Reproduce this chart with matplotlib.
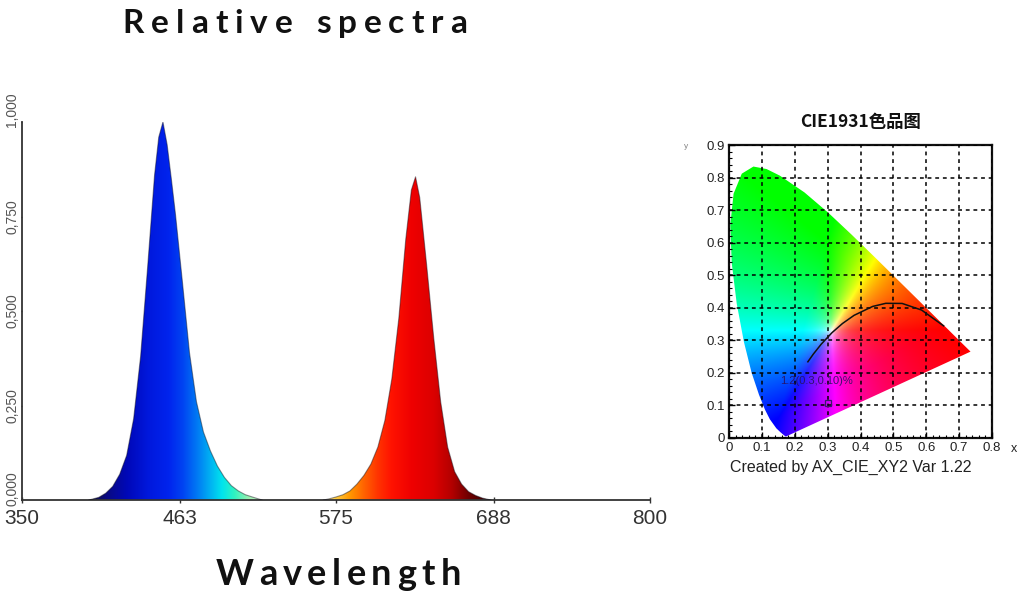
import numpy as np
import matplotlib
matplotlib.use('Agg')
import matplotlib.pyplot as plt
from matplotlib.colors import LinearSegmentedColormap
from matplotlib.patches import Polygon
from matplotlib.ticker import MultipleLocator
from matplotlib.transforms import ScaledTranslation

# ---- spectrum data ----
blue_nm = [398, 405, 410, 415, 420, 425, 430, 435, 440, 445, 448, 451, 454,
           457, 460, 465, 470, 475, 480, 485, 490, 495, 500, 505, 510, 515, 522]
blue_val = [0.0, 0.007, 0.018, 0.036, 0.068, 0.118, 0.215, 0.38, 0.615, 0.86,
            0.96, 1.0, 0.94, 0.85, 0.755, 0.575, 0.39, 0.26, 0.18, 0.13, 0.09,
            0.06, 0.038, 0.024, 0.014, 0.008, 0.0]
red_nm = [566, 570, 575, 580, 585, 590, 595, 600, 605, 610, 615, 620, 625,
          629, 632, 635, 640, 645, 650, 655, 660, 665, 670, 675, 680, 686]
red_val = [0.0, 0.003, 0.008, 0.014, 0.024, 0.042, 0.065, 0.095, 0.14, 0.21,
           0.32, 0.48, 0.69, 0.82, 0.855, 0.8, 0.62, 0.43, 0.26, 0.14, 0.075,
           0.042, 0.022, 0.012, 0.005, 0.0]
x_ticks = [350, 463, 575, 688, 800]
y_ticks = [0.0, 0.25, 0.5, 0.75, 1.0]
y_tick_labels = ['0,000', '0,250', '0,500', '0,750', '1,000']

# ---- CIE 1931 data ----
locus_x = [0.1741, 0.1733, 0.1714, 0.1644, 0.1566, 0.1440, 0.1241, 0.1096,
           0.0913, 0.0687, 0.0454, 0.0235, 0.0082, 0.0039, 0.0139, 0.0389,
           0.0743, 0.1142, 0.1547, 0.2296, 0.3016, 0.3731, 0.4441, 0.5125,
           0.5752, 0.6270, 0.6658, 0.6915, 0.7190, 0.7347]
locus_y = [0.0050, 0.0048, 0.0051, 0.0109, 0.0177, 0.0297, 0.0578, 0.0868,
           0.1327, 0.2007, 0.2950, 0.4127, 0.5384, 0.6548, 0.7502, 0.8120,
           0.8338, 0.8262, 0.8059, 0.7543, 0.6923, 0.6245, 0.5547, 0.4866,
           0.4242, 0.3725, 0.3340, 0.3083, 0.2809, 0.2653]
planck_x = [0.6528, 0.5857, 0.5267, 0.4770, 0.4369, 0.3805, 0.3451, 0.3135,
            0.2807, 0.2565, 0.2399]
planck_y = [0.3444, 0.3931, 0.4133, 0.4137, 0.4041, 0.3768, 0.3516, 0.3237,
            0.2884, 0.2577, 0.2341]
point_x, point_y = 0.30, 0.107
cie_xticks = [0, 0.1, 0.2, 0.3, 0.4, 0.5, 0.6, 0.7, 0.8]
cie_yticks = [0, 0.1, 0.2, 0.3, 0.4, 0.5, 0.6, 0.7, 0.8, 0.9]

W, H = 1024, 596
fig = plt.figure(figsize=(W / 100, H / 100), dpi=100)


def fx(px):
    return px / W


def fy(py):
    return 1 - py / H


def spaced_text(cx, baseline, s, size, gap, **kw):
    # draw text with extra letter spacing, centred on cx (pixels)
    renderer = fig.canvas.get_renderer()
    widths = []
    for ch in s:
        if ch == ' ':
            widths.append(size * 0.28 * 100 / 72)
            continue
        t = fig.text(0, 0, ch, fontsize=size, **kw)
        widths.append(t.get_window_extent(renderer).width)
        t.remove()
    total = sum(widths) + gap * (len(s) - 1)
    x = cx - total / 2
    for ch, w in zip(s, widths):
        if ch != ' ':
            fig.text(fx(x), fy(baseline), ch, fontsize=size, va='baseline', ha='left', **kw)
        x += w + gap


# ---- left: relative spectra ----
ax = fig.add_axes([fx(22), fy(500), fx(650) - fx(22), fy(122) - fy(500)])
ax.set_xlim(350, 800)
ax.set_ylim(0, 1.0)

blue_stops = [(398, '#141438'), (410, '#0a0a80'), (425, '#0008b8'), (440, '#0018dc'),
              (455, '#0024ee'), (465, '#0044f2'), (475, '#0078f4'), (485, '#00b4f2'),
              (493, '#00e4ee'), (502, '#30f2c0'), (512, '#9af0b0'), (522, '#d0f4d0')]
red_stops = [(566, '#fbeec0'), (575, '#ffcc40'), (585, '#ff9800'), (595, '#ff6400'),
             (605, '#ff3400'), (615, '#ff1200'), (630, '#ee0000'), (645, '#dc0000'),
             (658, '#b40000'), (670, '#700000'), (686, '#300000')]


def gradient_fill(nm, val, stops):
    lo, hi = stops[0][0], stops[-1][0]
    cmap = LinearSegmentedColormap.from_list(
        'g', [((w - lo) / (hi - lo), c) for w, c in stops])
    grad = np.linspace(0, 1, 256)[None, :]
    im = ax.imshow(grad, cmap=cmap, extent=[lo, hi, 0, 1.0], aspect='auto',
                   origin='lower', zorder=2)
    poly = Polygon(list(zip(nm, val)), closed=True, transform=ax.transData,
                   facecolor='none', edgecolor='none')
    ax.add_patch(poly)
    im.set_clip_path(poly)
    ax.plot(nm, val, color=(0.05, 0.05, 0.1, 0.45), lw=0.8, zorder=3)


gradient_fill(blue_nm, blue_val, blue_stops)
gradient_fill(red_nm, red_val, red_stops)

for s in ['top', 'right']:
    ax.spines[s].set_visible(False)
for s in ['left', 'bottom']:
    ax.spines[s].set_color('#333333')
    ax.spines[s].set_linewidth(1.3)
ax.set_xticks(x_ticks)
ax.set_xticklabels([str(v) for v in x_ticks], fontsize=15, color='#333333',
                   family='Liberation Sans')
ax.set_yticks(y_ticks)
ax.set_yticklabels(y_tick_labels, fontsize=10, color='#555555', rotation=90,
                   va='center', family='Liberation Sans')
ax.tick_params(axis='x', direction='inout', length=5, width=1, pad=4, color='#333333')
ax.tick_params(axis='y', direction='out', length=1, width=1, pad=1, color='#333333')
# the end labels sit a little higher in the original
ylabs = ax.get_yticklabels()
for lab, dy in [(ylabs[0], 0.11), (ylabs[-1], 0.12)]:
    lab.set_transform(lab.get_transform() + ScaledTranslation(0, dy, fig.dpi_scale_trans))
ax.set_facecolor('white')

spaced_text(295, 33, 'Relative spectra', 24, 7, family='Lato', weight='bold', color='#111111')
spaced_text(338, 585, 'Wavelength', 26, 5.5, family='Lato', weight='bold', color='#111111')

# ---- right: CIE 1931 chromaticity diagram ----
cx = fig.add_axes([fx(729), fy(438), fx(992) - fx(729), fy(145) - fy(438)])
cx.set_xlim(0, 0.8)
cx.set_ylim(0, 0.9)

gx = np.linspace(0.0, 0.8, 400)
gy = np.linspace(0.002, 0.9, 450)
XX, YY = np.meshgrid(gx, gy)
Xc = XX / YY
Zc = (1 - XX - YY) / YY
M = np.array([[3.2406, -1.5372, -0.4986],
              [-0.9689, 1.8758, 0.0415],
              [0.0557, -0.2040, 1.0570]])
rgb = np.einsum('ij,jkl->kli', M, np.stack([Xc, np.ones_like(Xc), Zc]))
rgb = np.clip(rgb, 0, None)
rgb = rgb - 0.7 * rgb.min(axis=2, keepdims=True)
rgb = rgb / rgb.max(axis=2, keepdims=True)
rgb = rgb ** (1 / 1.1)
im = cx.imshow(rgb, extent=[0, 0.8, 0.002, 0.9], origin='lower', aspect='auto', zorder=1)
horse = Polygon(list(zip(locus_x, locus_y)), closed=True, transform=cx.transData,
                facecolor='none', edgecolor='none')
cx.add_patch(horse)
im.set_clip_path(horse)

cx.plot(planck_x, planck_y, color='#111111', lw=1.1, zorder=3)
cx.plot([point_x], [point_y], marker='s', ms=4, mfc='none', mec='#3a1a6a', mew=0.9, zorder=3)
cx.text(0.155, 0.165, '1.2(0.3,0.10)%', fontsize=8, color='#2a1060', alpha=0.9, zorder=3,
        family='Liberation Sans')

cx.set_xticks(cie_xticks)
cx.set_yticks(cie_yticks)
cx.set_xticklabels(['0', '0.1', '0.2', '0.3', '0.4', '0.5', '0.6', '0.7', '0.8'],
                   fontsize=9.5, color='#222222', family='Liberation Sans')
cx.set_yticklabels(['0', '0.1', '0.2', '0.3', '0.4', '0.5', '0.6', '0.7', '0.8', '0.9'],
                   fontsize=9.5, color='#222222', family='Liberation Sans')
cx.xaxis.set_minor_locator(MultipleLocator(0.02))
cx.yaxis.set_minor_locator(MultipleLocator(0.02))
cx.tick_params(which='major', direction='in', length=4, width=1, pad=3)
cx.tick_params(which='minor', direction='in', length=2.5, width=0.8)
cx.grid(True, which='major', color='black', linestyle=(0, (2.5, 2.5)), lw=1.1, zorder=2)
for s in cx.spines.values():
    s.set_linewidth(1.6)
    s.set_color('#111111')
cx.set_axisbelow(False)

fig.text(fx(861), fy(122), 'CIE1931色品图', fontsize=12.5, weight='bold', ha='center',
         va='center', family=['Noto Sans CJK SC', 'DejaVu Sans'], color='#111111')
fig.text(fx(1014), fy(449), 'x', fontsize=9, ha='center', va='center',
         family='Liberation Sans', color='#222222')
fig.text(fx(686), fy(146), 'y', fontsize=6, ha='center', va='center',
         family='Liberation Sans', color='#888888')
fig.text(fx(851), fy(467), 'Created by AX_CIE_XY2 Var 1.22', fontsize=11.5, ha='center',
         va='center', family='Liberation Sans', color='#222222')

fig.savefig('out.png', dpi=100, facecolor='white')
